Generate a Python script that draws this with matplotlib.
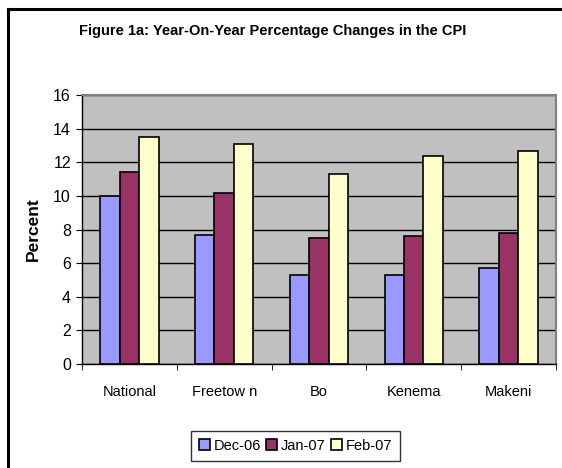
""" Figure 1a: year-on-year CPI changes by region """
import numpy as np
import matplotlib
import matplotlib.pyplot as plt
from matplotlib.lines import Line2D

matplotlib.use('Agg')
plt.rcParams['font.family'] = ['Liberation Sans', 'DejaVu Sans']

regions = ['National', 'Freetow n', 'Bo', 'Kenema', 'Makeni']
months = ['Dec-06', 'Jan-07', 'Feb-07']
dec_06 = [10.0, 7.7, 5.3, 5.3, 5.7]
jan_07 = [11.4, 10.2, 7.5, 7.6, 7.8]
feb_07 = [13.5, 13.1, 11.3, 12.4, 12.7]
colors = ['#9999FF', '#993366', '#FFFFCC']

fig = plt.figure(figsize=(5.62, 4.68), dpi=100)
ax = fig.add_axes([0.146, 0.222, 0.843, 0.575])
ax.set_facecolor('#C0C0C0')

x = np.arange(len(regions))
width = 0.205
for i, (vals, label) in enumerate(zip([dec_06, jan_07, feb_07], months)):
    ax.bar(x + (i - 1) * width, vals, width, color=colors[i], edgecolor='black',
           linewidth=1.2, label=label, zorder=3)

ax.set_xlim(-0.5, len(regions) - 0.5)
ax.set_ylim(0, 16)
ax.set_yticks(range(0, 17, 2))
ax.set_xticks(x)
ax.set_xticklabels(regions, fontsize=10.5)
ax.set_xticks(np.arange(-0.5, len(regions), 1), minor=True)
ax.tick_params(axis='x', which='major', length=0, pad=15)
ax.tick_params(axis='x', which='minor', length=4, direction='out')
ax.tick_params(axis='y', labelsize=11.5, length=4, pad=4)
ax.grid(axis='y', color='black', linewidth=1, zorder=1)
ax.set_axisbelow(True)

for side in ['top', 'right']:
    ax.spines[side].set_color('#808080')
    ax.spines[side].set_linewidth(1.5)
for side in ['left', 'bottom']:
    ax.spines[side].set_color('black')
    ax.spines[side].set_linewidth(1)

ax.set_ylabel('Percent', fontsize=12.5, fontweight='bold', labelpad=9)
fig.text(0.485, 0.934, 'Figure 1a: Year-On-Year Percentage Changes in the CPI',
         ha='center', va='center', fontsize=10.5, fontweight='bold')

leg = ax.legend(loc='center', bbox_to_anchor=(0.526, 0.048), bbox_transform=fig.transFigure,
                ncol=3, fontsize=10.5, frameon=True, fancybox=False, edgecolor='black',
                handlelength=0.75, handleheight=0.75, handletextpad=0.25,
                columnspacing=0.35, borderpad=0.55, borderaxespad=0)
leg.get_frame().set_linewidth(1)

# outer chart frame
fig.add_artist(Line2D([7.5 / 562, 7.5 / 562], [0, 1 - 8.5 / 468], color='black',
                      linewidth=2.2, transform=fig.transFigure))
fig.add_artist(Line2D([7.5 / 562, 1], [1 - 8.5 / 468, 1 - 8.5 / 468], color='black',
                      linewidth=2.2, transform=fig.transFigure))

fig.savefig('out.png', dpi=100)
plt.close()
